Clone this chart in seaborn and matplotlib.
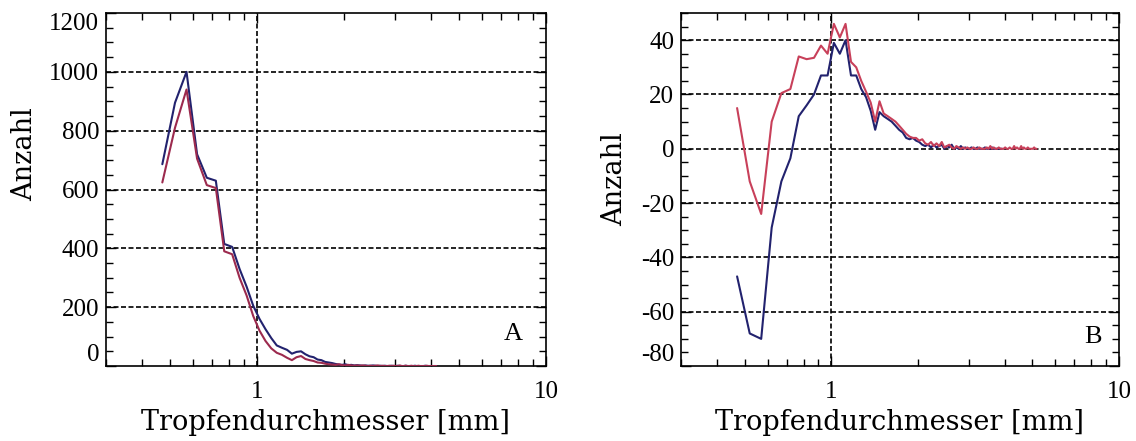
import numpy as np
import pandas as pd
import matplotlib
matplotlib.use("Agg")
import matplotlib.pyplot as plt
import seaborn as sns
from matplotlib.ticker import FixedLocator, NullFormatter

# Tropfendurchmesser [mm] (Klassenmitten)
durchmesser = [
    0.47, 0.52, 0.57, 0.62, 0.67, 0.72, 0.77, 0.82, 0.87, 0.92,
    0.97, 1.02, 1.07, 1.12, 1.17, 1.22, 1.27, 1.32, 1.37, 1.42,
    1.47, 1.52, 1.57, 1.62, 1.67, 1.72, 1.77, 1.82, 1.87, 1.92,
    1.97, 2.02, 2.07, 2.12, 2.17, 2.22, 2.27, 2.32, 2.37, 2.42,
    2.47, 2.52, 2.57, 2.62, 2.67, 2.72, 2.77, 2.82, 2.87, 2.92,
    2.97, 3.02, 3.07, 3.12, 3.17, 3.22, 3.27, 3.32, 3.37, 3.42,
    3.47, 3.52, 3.57, 3.62, 3.67, 3.72, 3.77, 3.82, 3.87, 3.92,
    3.97, 4.02, 4.07, 4.12, 4.17, 4.22, 4.27, 4.32, 4.37, 4.42,
    4.47, 4.52, 4.57, 4.62, 4.67, 4.72, 4.77, 4.82, 4.87, 4.92,
    4.97, 5.02, 5.07, 5.12, 5.17,
]

# Panel A: Anzahl
a_blau = [
    686, 895, 1000, 720, 640, 630, 415, 405, 330, 270,
    205, 160, 125, 95, 70, 62, 55, 42, 48, 50,
    40, 33, 30, 22, 20, 14, 12, 10, 7, 5,
    4, 6, 3, 4, 2, 3, 2, 1, 2, 1,
    1, 2, 1, 0, 1, 0, 1, 0, 0, 1,
    0, 0, 1, 0, 0, 0, 1, 0, 0, 0,
    0, 1, 0, 0, 0, 0, 0, 1, 0, 0,
    0, 0, 0, 0, 0,
]
a_rot = [
    624, 810, 940, 705, 615, 605, 390, 380, 300, 240,
    170, 120, 85, 60, 45, 38, 28, 20, 30, 34,
    24, 20, 17, 12, 11, 8, 6, 5, 4, 6,
    3, 2, 4, 2, 1, 2, 1, 2, 1, 0,
    1, 0, 1, 2, 0, 1, 0, 0, 1, 0,
    1, 0, 0, 2, 0, 0, 1, 0, 0, 1,
    0, 0, 0, 1, 0, 0, 0, 0, 1, 0,
    0, 0, 0, 0, 0,
]

# Panel B: Anzahl (Differenz)
b_blau = [
    -47, -68, -70, -29, -12, -3.5, 12, 16, 20, 27,
    27, 39, 35, 40, 27, 27, 22, 19, 14, 7,
    13.5, 12, 11, 10, 8.5, 7, 6, 4, 3.5, 4,
    3, 2.5, 1.5, 1, 1.5, 0.5, 1.5, 0.5, 1, 1.5,
    0, 1, 0.5, 1.5, 0, 0.5, 0, 1, 0, 0.5,
    0, 0, 0.5, 0, 0, 0.5, 0, 0, 0, 0.5,
    0, 0, 0, 0.5, 0, 0, 0, 0, 0, 0,
]
b_rot = [
    15, -12, -24, 10, 20.5, 22, 34, 33, 33.5, 38,
    35, 46, 41, 46, 32, 30, 25, 21, 17, 10,
    17.5, 13, 12, 11, 10, 8.5, 7, 5.5, 4.5, 4,
    4, 3, 3.5, 2, 1.5, 2.5, 1, 2, 1, 2.5,
    0.5, 1, 1.5, 0.5, 0, 1, 0.5, 0, 0.5, 0,
    0.5, 0, 0, 0.5, 0, 0, 0.5, 0, 0, 0,
    0.5, 0, 1, 0, 0.5, 0, 0, 0.5, 0, 0,
    0, 0.5, 0, 0, 0.5, 0, 0, 1, 0, 0.5,
    0, 0, 1, 0, 0.5, 0, 0, 0.5, 0, 0,
    0, 0, 0.5, 0, 0,
]

farbe_blau = "#22226e"
farbe_rot_a = "#9c2a4e"
farbe_rot_b = "#c8405a"

sns.set_style("ticks")
plt.rcParams["font.family"] = ["Liberation Serif", "DejaVu Serif"]
plt.rcParams["text.color"] = "black"
plt.rcParams["axes.labelcolor"] = "black"

fig = plt.figure(figsize=(11.36, 4.41), dpi=100)
ax_a = fig.add_axes([0.0933, 0.170, 0.3873, 0.8005])
ax_b = fig.add_axes([0.5995, 0.170, 0.3855, 0.8005])

label_font = {"family": "DejaVu Serif", "size": 19.5, "color": "black"}
grid_ls = (0, (3, 1.5))


def style_axis(ax, yticks, ylim, yminor):
    ax.set_xscale("log")
    ax.set_xlim(0.3, 10)
    ax.set_ylim(*ylim)
    ax.set_xticks([1, 10], ["1", "10"])
    ax.xaxis.set_minor_locator(FixedLocator([0.3, 0.4, 0.5, 0.6, 0.7, 0.8, 0.9,
                                             2, 3, 4, 5, 6, 7, 8, 9]))
    ax.xaxis.set_minor_formatter(NullFormatter())
    ax.set_yticks(yticks, [str(t) for t in yticks])
    ax.yaxis.set_minor_locator(FixedLocator(yminor))
    ax.tick_params(which="both", direction="in", top=True, right=True,
                   colors="black", labelsize=18)
    ax.tick_params(which="major", length=7, width=1.0)
    ax.tick_params(which="minor", length=5, width=1.0)
    ax.tick_params(axis="x", which="major", pad=11)
    ax.tick_params(axis="y", which="major", pad=5)
    for t in yticks:
        if t not in (ylim[0], ylim[1]):
            ax.axhline(t, color="black", lw=1.2, ls=grid_ls, zorder=1)
    ax.axvline(1, color="black", lw=1.2, ls=grid_ls, zorder=1)
    for s in ax.spines.values():
        s.set_color("black")
        s.set_linewidth(1.2)
    ax.set_xlabel("Tropfendurchmesser [mm]", fontdict=label_font, labelpad=4)
    ax.set_ylabel("Anzahl", fontdict=label_font)


# Panel A
sns.lineplot(x=durchmesser[:len(a_blau)], y=a_blau, ax=ax_a, color=farbe_blau, lw=1.5, zorder=3)
sns.lineplot(x=durchmesser[:len(a_rot)], y=a_rot, ax=ax_a, color=farbe_rot_a, lw=1.5, zorder=3)
style_axis(ax_a, [0, 200, 400, 600, 800, 1000, 1200], (0, 1200),
           list(range(0, 1201, 50)))
ax_a.yaxis.set_label_coords(-0.155, 0.60)
for lab in ax_a.get_yticklabels():
    if lab.get_text() == "0":
        lab.set_va("bottom")
    elif lab.get_text() == "1200":
        lab.set_va("top")
ax_a.text(0.926, 0.06, "A", transform=ax_a.transAxes, fontsize=19,
          ha="center", va="bottom", color="black")

# Panel B
sns.lineplot(x=durchmesser[:len(b_blau)], y=b_blau, ax=ax_b, color=farbe_blau, lw=1.5, zorder=3)
sns.lineplot(x=durchmesser[:len(b_rot)], y=b_rot, ax=ax_b, color=farbe_rot_b, lw=1.5, zorder=3)
style_axis(ax_b, [-80, -60, -40, -20, 0, 20, 40], (-80, 50),
           list(range(-80, 51, 5)))
ax_b.yaxis.set_label_coords(-0.121, 0.53)
for lab in ax_b.get_yticklabels():
    if lab.get_text() == "-80":
        lab.set_va("bottom")
ax_b.text(0.94, 0.05, "B", transform=ax_b.transAxes, fontsize=19,
          ha="center", va="bottom", color="black")

fig.savefig("out.png", dpi=100)
